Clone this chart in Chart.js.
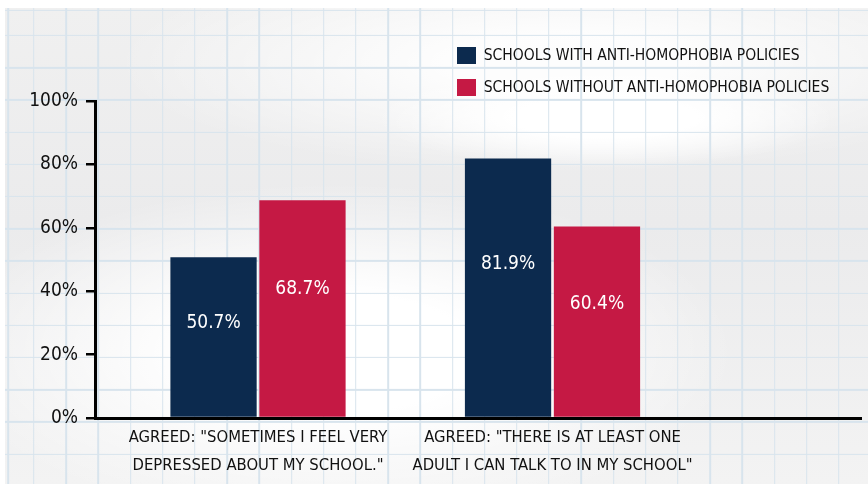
<!DOCTYPE html>
<html>
<head>
<meta charset="utf-8">
<script src="https://cdn.jsdelivr.net/npm/chart.js@4.4.1/dist/chart.umd.min.js"></script>
<style>
  html, body { margin: 0; padding: 0; width: 868px; height: 484px; overflow: hidden; background: #ffffff; }
  #paper {
    position: absolute; left: 5px; top: 8px; width: 863px; height: 476px;
    background:
      repeating-linear-gradient(to right, #d8e4ed 0px, #d8e4ed 1.3px, rgba(0,0,0,0) 1.3px, rgba(0,0,0,0) 32.2px) 28.2px 0 / auto,
      repeating-linear-gradient(to bottom, #d8e4ed 0px, #d8e4ed 1.3px, rgba(0,0,0,0) 1.3px, rgba(0,0,0,0) 32.2px) 0 26.9px / auto,
      radial-gradient(ellipse 230px 50px at 600px 110px, rgba(255,255,255,1) 40%, rgba(255,255,255,0) 100%),
      radial-gradient(ellipse 400px 170px at 330px 345px, rgba(255,255,255,1) 35%, rgba(255,255,255,0) 100%),
      radial-gradient(ellipse 450px 110px at 560px 55px, rgba(255,255,255,0.9) 25%, rgba(255,255,255,0) 100%),
      linear-gradient(to bottom, #f0f0f0 0%, #ebebec 45%, #f3f3f3 100%);
  }
  #wrap { position: absolute; left: 0; top: 0; width: 868px; height: 484px; }
</style>
</head>
<body>
<div id="paper"></div>
<div id="wrap"><canvas id="c" width="868" height="484"></canvas></div>
<script>
// ---- data ----
const categories = [
  ['AGREED: "SOMETIMES I FEEL VERY', 'DEPRESSED ABOUT MY SCHOOL."'],
  ['AGREED: "THERE IS AT LEAST ONE', 'ADULT I CAN TALK TO IN MY SCHOOL"']
];
const seriesNames = ['SCHOOLS WITH ANTI-HOMOPHOBIA POLICIES', 'SCHOOLS WITHOUT ANTI-HOMOPHOBIA POLICIES'];
const withPolicies = [50.7, 81.9];
const withoutPolicies = [68.7, 60.4];
const yTicks = [0, 20, 40, 60, 80, 100];

// ---- styles ----
const FONT = "'DejaVu Sans Condensed', 'DejaVu Sans', sans-serif";
const NAVY = '#0c2a4e';
const RED = '#c51944';

const toPoints = (arr) => arr.map((v, i) => ({ x: i + 1, y: v }));

const barLabels = {
  id: 'barLabels',
  afterDatasetsDraw(chart) {
    const ctx = chart.ctx;
    ctx.save();
    ctx.font = '19px ' + FONT;
    ctx.fillStyle = '#ffffff';
    ctx.textAlign = 'center';
    ctx.textBaseline = 'middle';
    chart.data.datasets.forEach((ds, di) => {
      const meta = chart.getDatasetMeta(di);
      meta.data.forEach((bar, i) => {
        const v = ds.data[i].y;
        const y = bar.y + 0.41 * (bar.base - bar.y);
        ctx.fillText(v.toFixed(1) + '%', bar.x, y);
      });
    });
    ctx.restore();
  }
};

const legendPlace = {
  id: 'legendPlace',
  afterLayout(chart) {
    const l = chart.legend;
    if (!l) return;
    l.left = 442; l.top = 32;
    l.right = l.left + 420; l.bottom = l.top + 90;
    l.width = 420; l.height = 90;
  }
};

Chart.defaults.font.family = FONT;
Chart.defaults.color = '#111111';

new Chart(document.getElementById('c'), {
  type: 'bar',
  data: {
    datasets: [
      { label: seriesNames[0], data: toPoints(withPolicies), backgroundColor: NAVY, borderWidth: 0 },
      { label: seriesNames[1], data: toPoints(withoutPolicies), backgroundColor: RED, borderWidth: 0 }
    ]
  },
  options: {
    responsive: false,
    animation: false,
    devicePixelRatio: 1,
    categoryPercentage: 0.604,
    barPercentage: 0.97,
    layout: { padding: { left: 0, right: 7, top: 101, bottom: 0 } },
    plugins: {
      legend: {
        position: 'chartArea',
        align: 'start',
        labels: {
          boxWidth: 19, boxHeight: 17, padding: 15,
          color: '#111111',
          font: { size: 15.5, family: FONT }
        }
      },
      tooltip: { enabled: false }
    },
    scales: {
      x: {
        type: 'linear',
        offset: false,
        min: 0.4465,
        max: 3.0475,
        afterBuildTicks: (scale) => { scale.ticks = categories.map((_, i) => ({ value: i + 1 })); },
        afterFit: (scale) => { scale.height = 66; },
        grid: { display: false, drawTicks: false },
        border: { display: true, color: '#000000', width: 3 },
        ticks: {
          autoSkip: false,
          maxRotation: 0,
          padding: 6,
          color: '#111111',
          font: { size: 16.5, family: FONT, lineHeight: 1.7 },
          callback: (value, index) => categories[index]
        }
      },
      y: {
        min: 0,
        max: 100,
        afterBuildTicks: (scale) => { scale.ticks = yTicks.map(v => ({ value: v })); },
        afterFit: (scale) => { scale.width = 95; },
        grid: { display: true, drawOnChartArea: false, drawTicks: true, tickLength: 9, color: '#000000', lineWidth: 2.5 },
        border: { display: true, color: '#000000', width: 3 },
        ticks: {
          padding: 8,
          color: '#111111',
          font: { size: 19, family: FONT },
          callback: (v) => v + '%'
        }
      }
    }
  },
  plugins: [barLabels, legendPlace]
});
</script>
</body>
</html>
